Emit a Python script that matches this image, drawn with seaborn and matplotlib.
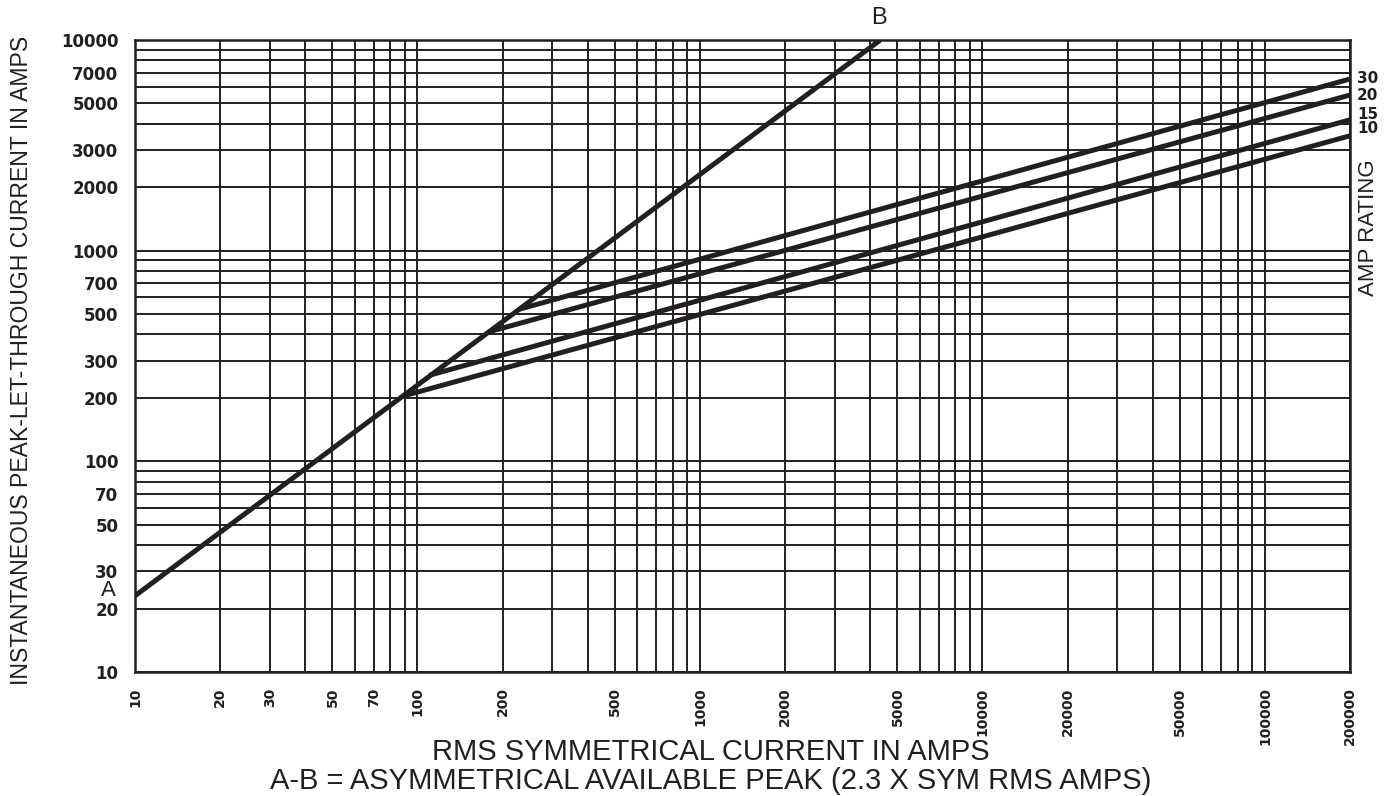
import matplotlib
matplotlib.use('Agg')
import matplotlib.pyplot as plt
import matplotlib.ticker as mticker
import seaborn as sns
import pandas as pd

# A-B line: asymmetrical available peak (2.3 x sym rms amps)
ab_x = [10, 4348]
ab_y = [23, 10000]

# fuse let-through lines: leave the A-B line at the branch point, run to the right edge
ratings = ['10', '15', '20', '30']
branch_x = [90, 110, 179, 229]
branch_y = [205, 256, 412, 527]
end_x = [200000, 200000, 200000, 200000]
end_y = [3510, 4180, 5480, 6530]

x_ticks = [10, 20, 30, 50, 70, 100, 200, 500, 1000, 2000, 5000,
           10000, 20000, 50000, 100000, 200000]
y_ticks = [10, 20, 30, 50, 70, 100, 200, 300, 500, 700, 1000,
           2000, 3000, 5000, 7000, 10000]

ink = '#231f20'
W, H = 1395, 796

sns.set_style('white')
plt.rcParams['font.family'] = ['Liberation Sans', 'DejaVu Sans']

fig = plt.figure(figsize=(W / 100, H / 100), dpi=100)
ax = fig.add_axes([135 / W, 1 - 672 / H, (1350 - 135) / W, (672 - 40) / H])
ax.set_xscale('log')
ax.set_yscale('log')

lines = pd.DataFrame({
    'x': ab_x + sum([[bx, ex] for bx, ex in zip(branch_x, end_x)], []),
    'y': ab_y + sum([[by, ey] for by, ey in zip(branch_y, end_y)], []),
    'curve': ['AB', 'AB'] + sum([[r, r] for r in ratings], []),
})
for name, d in lines.groupby('curve'):
    sns.lineplot(data=d, x='x', y='y', ax=ax, color=ink, lw=3.6,
                 solid_capstyle='butt', legend=False)

ax.set_xlim(10, 200000)
ax.set_ylim(10, 10000)

ax.set_xticks(x_ticks)
ax.set_xticklabels([str(v) for v in x_ticks], rotation=90,
                   fontfamily='DejaVu Sans', fontweight='bold', fontsize=10, color=ink)
ax.set_yticks(y_ticks)
ax.set_yticklabels([str(v) for v in y_ticks],
                   fontfamily='DejaVu Sans', fontweight='bold', fontsize=12, color=ink)
ax.xaxis.set_minor_locator(mticker.LogLocator(base=10, subs=range(1, 10), numticks=100))
ax.yaxis.set_minor_locator(mticker.LogLocator(base=10, subs=range(1, 10), numticks=100))
ax.xaxis.set_minor_formatter(mticker.NullFormatter())
ax.yaxis.set_minor_formatter(mticker.NullFormatter())
ax.tick_params(which='both', length=0)
ax.tick_params(axis='x', pad=11)
ax.tick_params(axis='y', pad=12)
ax.grid(True, which='both', color=ink, lw=1.4)
ax.set_axisbelow(True)
ax.set_xlabel('')
ax.set_ylabel('')
for s in ax.spines.values():
    s.set_color(ink)
    s.set_linewidth(1.8)

# rating labels at the line ends
label_dy = [5, 4, 0, 0]
for r, ey, dy in zip(ratings, end_y, label_dy):
    ax.annotate(r, (200000, ey), xytext=(5, dy), textcoords='offset points',
                ha='left', va='center', fontsize=11, fontweight='bold',
                fontfamily='DejaVu Sans', color=ink, annotation_clip=False)

fig.text(1368 / W, 1 - 228 / H, 'AMP RATING', rotation=90, ha='center', va='center',
         fontsize=16, color=ink)
fig.text(22 / W, 1 - 360 / H, 'INSTANTANEOUS PEAK-LET-THROUGH CURRENT IN AMPS',
         rotation=90, ha='center', va='center', fontsize=16.6, color=ink)
fig.text(711 / W, 1 - 760 / H, 'RMS SYMMETRICAL CURRENT IN AMPS',
         ha='center', va='baseline', fontsize=21, color=ink)
fig.text(711 / W, 1 - 789 / H, 'A-B = ASYMMETRICAL AVAILABLE PEAK (2.3 X SYM RMS AMPS)',
         ha='center', va='baseline', fontsize=21, color=ink)
fig.text(108 / W, 1 - 591 / H, 'A', ha='center', va='center', fontsize=16, color=ink)
fig.text(879 / W, 1 - 18 / H, 'B', ha='center', va='center', fontsize=17, color=ink)

fig.savefig('out.png', dpi=100, facecolor='white')
